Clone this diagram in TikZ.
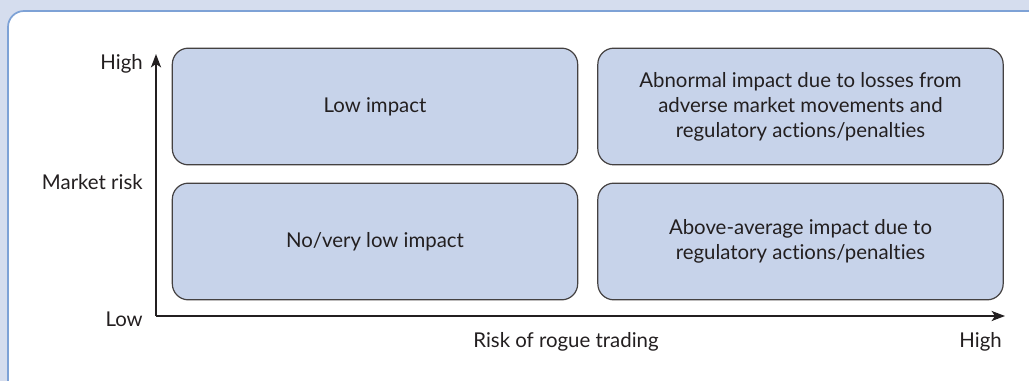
\documentclass[tikz,border=0pt]{standalone}
\usepackage{fontspec}
\setmainfont{Lato}[Ligatures=NoCommon]
\usetikzlibrary{arrows.meta}

\definecolor{pagebg}{HTML}{D5DDEE}
\definecolor{panelline}{HTML}{7EA2D6}
\definecolor{cellfill}{HTML}{C7D3EA}
\definecolor{ink}{HTML}{231F20}

\begin{document}
\begin{tikzpicture}[x=0.75pt,y=0.75pt,
  cell/.style={draw=ink!85,fill=cellfill,line width=0.9pt,rounded corners=12pt,
    minimum width=304pt,minimum height=87.5pt,align=center,inner sep=0pt,
    text=ink,font=\fontsize{15.3}{18.75}\selectfont},
  axislabel/.style={text=ink,inner sep=0pt,font=\fontsize{15.3}{18.75}\selectfont},
  axis/.style={ink,line width=1.5pt,-{Stealth[length=10pt,width=7.5pt,inset=2.5pt]}}]
\clip (0,0) rectangle (1029,-381);
\useasboundingbox (0,0) rectangle (1029,-381);
% frame
\fill [pagebg] (0,0) rectangle (1029,-381);
\draw [panelline,fill=white,line width=1.3pt,rounded corners=12pt] (8,-11) rectangle (1060,-420);
% the four cells
\node [cell] (lowimp) at (375,-106.5) {Low impact};
\node [cell] (abnormal) at (800.5,-106.5) {Abnormal impact due to losses from\\adverse market movements and\\regulatory actions/penalties};
\node [cell] (noimp) at (375,-241.5) {No/very low impact};
\node [cell] (above) at (800.5,-241.5) {Above-average impact due to\\regulatory actions/penalties};
% axes
\coordinate (origin) at (156,-316);
\coordinate (ytip) at (156,-54);
\coordinate (xtip) at (1005,-316);
\draw [axis] (origin) -- (ytip);
\draw [axis] (origin) -- (xtip);
\node [axislabel,anchor=base east] (yhigh) at (143,-70) {High};
\node [axislabel,anchor=base east] (ymid) at (143,-190) {Market risk};
\node [axislabel,anchor=base east] (ylow) at (143,-326) {Low};
\node [axislabel,anchor=base] (xmid) at (566,-347) {Risk of rogue trading};
\node [axislabel,anchor=base east] (xhigh) at (1002,-347) {High};
\end{tikzpicture}
\end{document}
